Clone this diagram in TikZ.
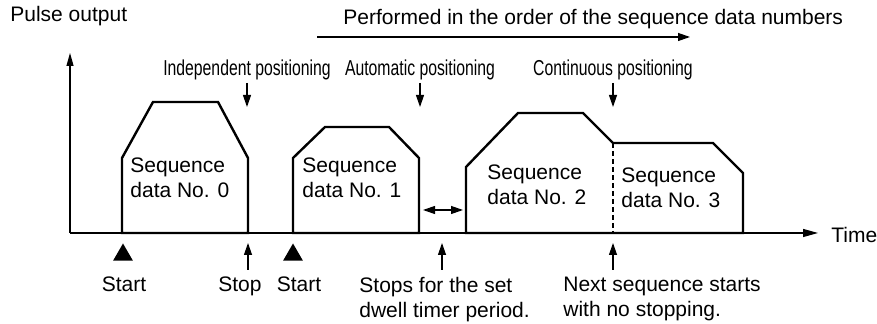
\documentclass[tikz,border=0pt]{standalone}
\usepackage{fontspec}
\setmainfont{Liberation Sans}
\newfontfamily\narrowfont{Liberation Sans}[FakeStretch=0.73]
\usetikzlibrary{arrows.meta,shapes.geometric,positioning}

\tikzset{
  axis/.style={line width=0.6pt},
  pulse/.style={line width=1.2pt, line join=miter},
  arr/.style={line width=0.6pt, -{Triangle[length=6pt,width=4pt]}},
  lbl/.style={inner sep=0pt, align=left, font=\fontsize{10.5}{12.5}\selectfont},
  cond/.style={inner sep=1pt, font=\narrowfont\fontsize{10.8}{12.5}\selectfont},
  tri/.style={regular polygon, regular polygon sides=3, fill=black, inner sep=0pt, minimum size=11.5pt},
}

\begin{document}
\begin{tikzpicture}[x=0.5pt,y=-0.5pt]
\useasboundingbox (0,0) rectangle (877,324);

% Axes
\coordinate (o) at (70,233);
\coordinate (ytip) at (70,53);
\coordinate (xtip) at (818,233);
\draw[axis, -{Triangle[length=6.5pt,width=3.5pt]}] (o) -- (ytip);
\draw[axis, -{Triangle[length=7.5pt,width=4pt]}] (o) -- (xtip);
\node[lbl, anchor=west] (time) at (831,235) {Time};
\node[lbl, anchor=base west] (pulse) at (10,22) {Pulse output};

% Order arrow
\node[lbl, anchor=base west] (order) at (343,25) {Performed in the order of the sequence data numbers};
\coordinate (ordA) at (317,37);
\coordinate (ordB) at (690,37);
\draw[arr] (ordA) -- (ordB);

% Pulses
\draw[pulse] (122,233) -- (122,158) -- (153,102) -- (218,102) -- (248,158) -- (248,233) -- cycle;
\draw[pulse] (293,233) -- (293,158) -- (325,127) -- (389,127) -- (419,158) -- (419,233) -- cycle;
\draw[pulse] (466,233) -- (466,167) -- (518,113) -- (583,113) -- (613,143) -- (713,143)
  -- (743,173) -- (743,233) -- cycle;
\draw[axis, dash pattern=on 2.5pt off 1.5pt] (613,143) -- (613,233);

\node[lbl, anchor=north west] (seq0) at (130,157) {Sequence\\data No. 0};
\node[lbl, anchor=north west] (seq1) at (302,157) {Sequence\\data No. 1};
\node[lbl, anchor=north west] (seq2) at (487,164) {Sequence\\data No. 2};
\node[lbl, anchor=north west] (seq3) at (621,167) {Sequence\\data No. 3};

% Positioning modes
\node[cond, anchor=base] (indep) at (247,76) {Independent positioning};
\node[cond, anchor=base] (auto) at (420,76) {Automatic positioning};
\node[cond, anchor=base] (cont) at (613,76) {Continuous positioning};
\coordinate (indepB) at (247,107);
\coordinate (autoB) at (420,107);
\coordinate (contB) at (613,107);
\draw[arr] (indep.south -| indepB) -- (indepB);
\draw[arr] (auto.south -| autoB) -- (autoB);
\draw[arr] (cont.south -| contB) -- (contB);

% Dwell time
\coordinate (dwA) at (423,210);
\coordinate (dwB) at (463,210);
\draw[arr, {Triangle[length=6pt,width=4pt]}-{Triangle[length=6pt,width=4pt]}] (dwA) -- (dwB);

% Events below the axis
\node[tri] (start0) at (123,255) {};
\node[tri] (start1) at (293,255) {};
\node[lbl, anchor=base] (lstart0) at (124,292) {Start};
\node[lbl, anchor=base] (lstop) at (240,292) {Stop};
\node[lbl, anchor=base] (lstart1) at (299,292) {Start};
\node[lbl, anchor=north west] (ldwell) at (359,277) {Stops for the set\\dwell timer period.};
\node[lbl, anchor=north west] (lnext) at (563,277) {Next sequence starts\\with no stopping.};

\coordinate (stopA) at (248,270);
\coordinate (stopB) at (248,243);
\coordinate (dwellA) at (442,270);
\coordinate (dwellB) at (442,243);
\coordinate (nextA) at (613,270);
\coordinate (nextB) at (613,243);
\draw[arr] (stopA) -- (stopB);
\draw[arr] (dwellA) -- (dwellB);
\draw[arr] (nextA) -- (nextB);

\end{tikzpicture}
\end{document}
